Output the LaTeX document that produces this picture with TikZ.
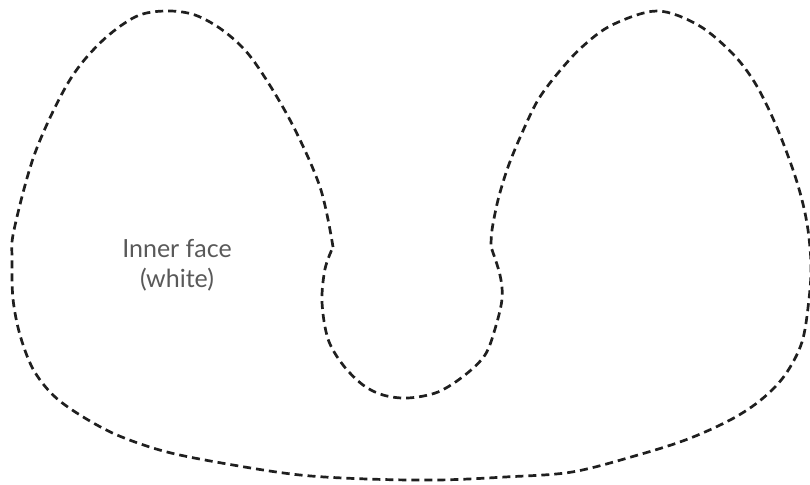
\documentclass[tikz,border=0pt]{standalone}
\usepackage{fontspec}
\setmainfont{Lato}
\begin{document}
\begin{tikzpicture}[x=1pt,y=-1pt,
  outline/.style={draw=black!88, line width=2.7pt, dash pattern=on 8pt off 5pt},
  label/.style={text=black!65, align=center, font=\fontsize{25}{30}\selectfont, inner sep=0pt}]
\useasboundingbox (0,0) rectangle (810,484);
\draw[outline]
  plot[smooth, tension=0.55] coordinates {(333,247) (320,187) (290,120) (253,60) (225,32) (195,15) (165,11) (135,17) (100,43) (68,83) (35,153) (14,230) (12,259) (13,299) (20,335) (33,369) (53,395) (80,415) (117,435) (167,452) (233,465) (300,475) (367,479) (438,480) (505,477) (572,472) (638,455) (688,439) (732,419) (762,399) (785,375) (802,342) (809,299) (811,265) (808,230) (802,200) (792,167) (775,123) (755,83) (732,53) (698,25) (657,11) (612,25) (582,47) (558,73) (538,100) (522,133) (508,167) (498,200) (492,230) (491,247)}
  -- plot[smooth, tension=0.55] coordinates {(491,247) (500,275) (502,299) (495,329) (485,355) (465,375) (438,392) (408,398) (383,395) (363,385) (343,365) (328,339) (322,302) (325,269) (333,247)}
  -- cycle;
\node[label] (inner) at (177,265) {Inner face\\(white)};
\end{tikzpicture}
\end{document}
